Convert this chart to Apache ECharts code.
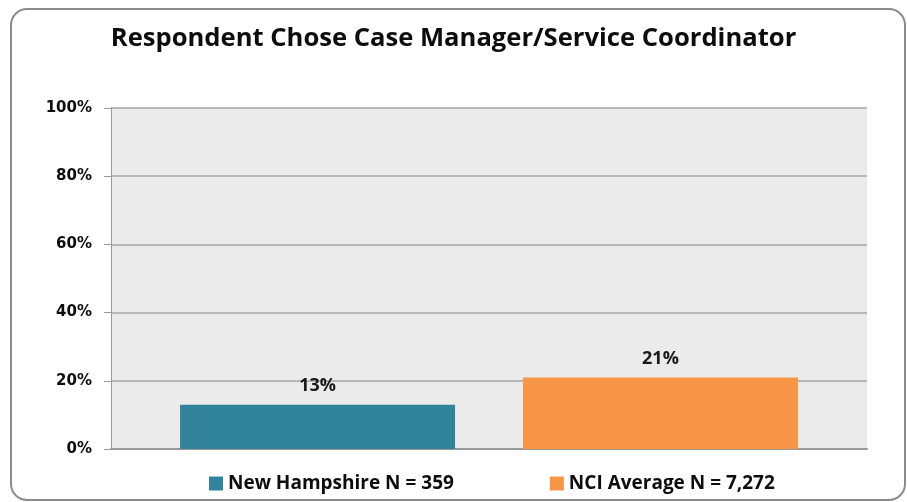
<!DOCTYPE html>
<html>
<head>
<meta charset="utf-8">
<style>
  html, body { margin: 0; padding: 0; background: #ffffff; }
  #chart { width: 907px; height: 502px; }
</style>
<script src="https://cdn.jsdelivr.net/npm/echarts@6/dist/echarts.min.js"></script>
</head>
<body>
<div id="chart"></div>
<script>
// Share of respondents choosing a case manager / service coordinator
const categories = ['Respondent Chose Case Manager/Service Coordinator'];
const seriesNames = ['New Hampshire N = 359', 'NCI Average N = 7,272'];
const newHampshire = [13];
const nciAverage = [21];
const yTicks = [0, 20, 40, 60, 80, 100];

const colors = ['#31849B', '#F79646'];
const chart = echarts.init(document.getElementById('chart'), null, { renderer: 'canvas' });

const labelStyle = {
  show: true,
  position: 'top',
  distance: 10,
  formatter: p => p.value + '%',
  fontFamily: 'Open Sans',
  fontWeight: 'bold',
  fontSize: 18,
  color: '#1a1a1a'
};

chart.setOption({
  animation: false,
  title: {
    text: categories[0],
    left: 'center',
    top: 21,
    textStyle: {
      fontFamily: 'Open Sans',
      fontWeight: 'bold',
      fontSize: 25.6,
      color: '#0d0d0d'
    }
  },
  legend: {
    top: 469,
    left: 204,
    itemWidth: 14,
    itemHeight: 14,
    itemGap: 96,
    icon: 'rect',
    textStyle: {
      fontFamily: 'Open Sans',
      fontWeight: 'bold',
      fontSize: 19,
      color: '#0d0d0d'
    },
    data: seriesNames
  },
  grid: {
    left: 111,
    right: 40,
    top: 108,
    bottom: 53,
    show: true,
    backgroundColor: '#EBEBEB',
    borderWidth: 0
  },
  xAxis: {
    type: 'category',
    data: categories,
    axisLabel: { show: false },
    axisTick: { show: false },
    axisLine: { show: true, lineStyle: { color: '#9a9a9a', width: 2 } }
  },
  yAxis: {
    type: 'value',
    min: yTicks[0],
    max: yTicks[yTicks.length - 1],
    interval: 20,
    axisLine: { show: true, lineStyle: { color: '#9a9a9a', width: 1 } },
    axisTick: { show: true, length: 7, lineStyle: { color: '#9a9a9a' } },
    splitLine: { show: true, lineStyle: { color: '#a6a6a6', width: 1.5 } },
    axisLabel: {
      margin: 19,
      formatter: v => v + '%',
      fontFamily: 'DejaVu Sans',
      fontWeight: 'bold',
      fontSize: 15,
      color: '#0d0d0d'
    }
  },
  series: [
    {
      name: seriesNames[0],
      type: 'bar',
      data: newHampshire,
      barWidth: 275,
      barGap: '24.7%',
      itemStyle: { color: colors[0] },
      label: labelStyle
    },
    {
      name: seriesNames[1],
      type: 'bar',
      data: nciAverage,
      barWidth: 275,
      itemStyle: { color: colors[1] },
      label: labelStyle
    }
  ],
  graphic: [
    {
      type: 'rect',
      silent: true,
      z: 100,
      shape: { x: 11, y: 9, width: 894, height: 491, r: 16 },
      style: { fill: 'none', stroke: '#8c8c8c', lineWidth: 2 }
    }
  ]
});
</script>
</body>
</html>
